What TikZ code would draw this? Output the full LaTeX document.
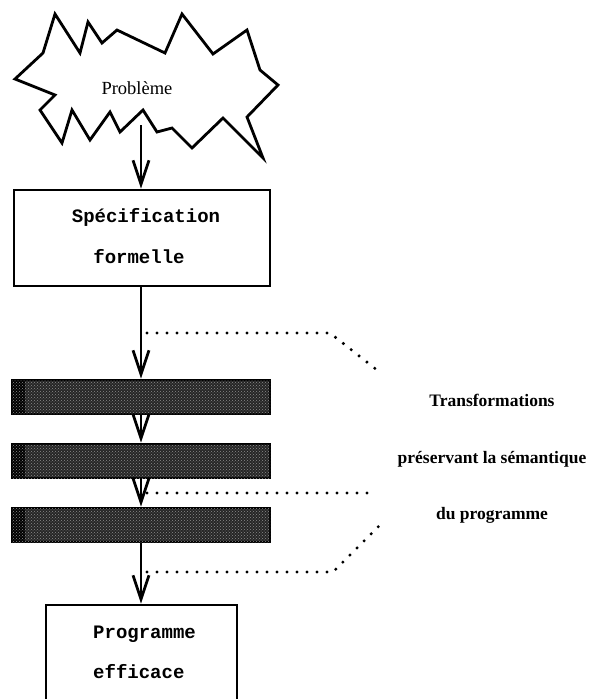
\documentclass[tikz,border=0pt]{standalone}
\usepackage{fontspec}
\setmainfont{Liberation Serif}
\newfontfamily\courierfont{Liberation Mono}
\usetikzlibrary{arrows.meta,patterns}

\begin{document}
\begin{tikzpicture}[x=1pt,y=-1pt,
  outline/.style={line width=2.8pt, line join=miter},
  flow/.style={line width=2.6pt,
    -{Straight Barb[length=24pt,width=16pt,line width=2.8pt]}},
  specbox/.style={draw, line width=2.6pt, rectangle, inner sep=0pt},
  codetext/.style={inner sep=0pt, anchor=base,
    font=\courierfont\bfseries\fontsize{19}{19}\selectfont},
  bar/.style={draw, line width=2.6pt, rectangle, inner sep=0pt,
    minimum width=258pt, minimum height=34pt, fill=black!85,
    postaction={pattern=crosshatch dots, pattern color=black!45},
    path picture={\fill[black]
      (path picture bounding box.south west)
      rectangle ([xshift=13pt]path picture bounding box.north west);}},
  dotline/.style={line width=3.4pt, line cap=round,
    dash pattern=on 0pt off 10pt},
  note/.style={inner sep=0pt, anchor=base,
    font=\bfseries\fontsize{17.5}{17.5}\selectfont}]

  % page frame
  \clip (0,0) rectangle (592,699);
  \fill[white] (0,0) rectangle (592,699);

  % jagged cloud around the problem statement
  \draw[outline] (15,79) -- (43,53) -- (55,14) -- (80,53) -- (88,22)
    -- (102,43) -- (117,30) -- (165,53) -- (182,14) -- (213,54)
    -- (247,30) -- (260,70) -- (278,85) -- (247,117) -- (263,158)
    -- (223,118) -- (192,148) -- (172,128) -- (157,132) -- (143,110)
    -- (120,132) -- (110,112) -- (90,140) -- (72,110) -- (62,143)
    -- (40,110) -- (55,95) -- cycle;
  \node[inner sep=0pt, anchor=base, font=\fontsize{18.5}{18.5}\selectfont]
    (prob) at (137,94) {Problème};
  \coordinate (cloudfoot) at (141,125);

  % formal specification
  \node[specbox, minimum width=256pt, minimum height=96pt]
    (spec) at (142,238) {};
  \node[codetext] (spec1) at (146,222) {Spécification};
  \node[codetext] (spec2) at (139,263) {formelle};

  % transformation steps
  \node[bar] (bar1) at (141,397) {};
  \node[bar] (bar2) at (141,461) {};
  \node[bar] (bar3) at (141,525) {};

  % efficient program (box runs past the lower edge)
  \node[specbox, minimum width=191pt, minimum height=140pt]
    (prog) at (141.5,675) {};
  \node[codetext, anchor=base west] (prog1) at (93,638) {Programme};
  \node[codetext, anchor=base west] (prog2) at (93,678) {efficace};

  % flow arrows
  \draw[flow] (cloudfoot) -- (cloudfoot |- spec.north);
  \draw[flow] (spec.south -| cloudfoot) -- (cloudfoot |- bar1.north);
  \draw[flow] (cloudfoot |- bar1.south) -- (cloudfoot |- bar2.north);
  \draw[flow] (cloudfoot |- bar2.south) -- (cloudfoot |- bar3.north);
  \draw[flow] (cloudfoot |- bar3.south) -- (cloudfoot |- prog.north);

  % bracket of dotted leaders
  \coordinate (lead1) at (147,333);
  \coordinate (lead2) at (147,493);
  \coordinate (lead3) at (147,572);
  \draw[dotline] (lead1) -- (330,333) -- (377,370);
  \draw[dotline] (lead2) -- (375,493);
  \draw[dotline] (lead3) -- (333,572) -- (380,525);

  % caption of the bracket
  \node[note] (t1) at (492,406) {Transformations};
  \node[note] (t2) at (492,463) {préservant la sémantique};
  \node[note] (t3) at (492,519) {du programme};
\end{tikzpicture}
\end{document}
